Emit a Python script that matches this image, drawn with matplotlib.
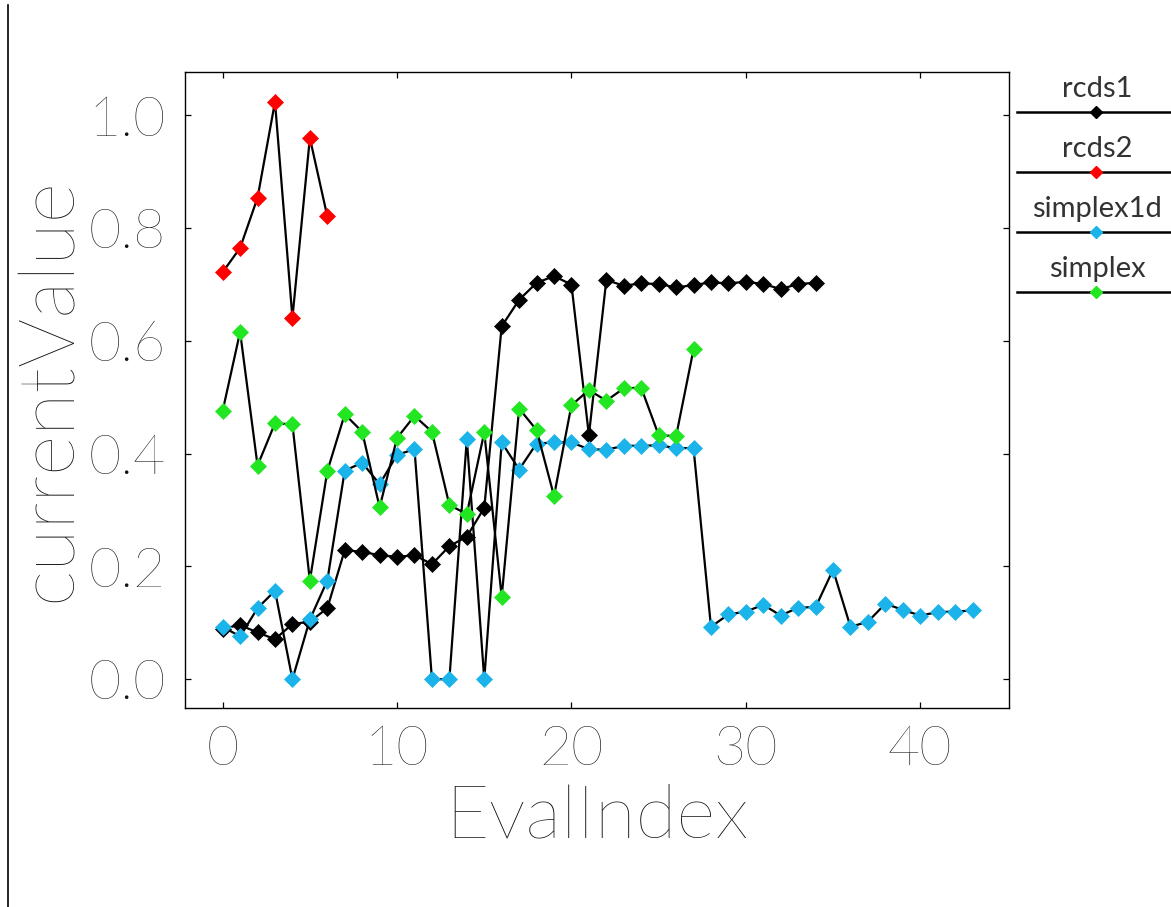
import matplotlib
matplotlib.use("Agg")
import matplotlib.pyplot as plt
from matplotlib.lines import Line2D
import numpy as np

# ---- data ----
rcds1 = [0.090, 0.096, 0.083, 0.071, 0.098, 0.102, 0.126, 0.229, 0.226, 0.220,
         0.217, 0.220, 0.204, 0.236, 0.253, 0.304, 0.626, 0.673, 0.703, 0.715,
         0.700, 0.433, 0.708, 0.698, 0.702, 0.701, 0.695, 0.699, 0.704, 0.702,
         0.705, 0.701, 0.692, 0.701, 0.703]
rcds2 = [0.722, 0.765, 0.854, 1.024, 0.641, 0.960, 0.821]
simplex1d = [0.093, 0.076, 0.126, 0.157, 0.000, 0.106, 0.175, 0.370, 0.384, 0.346,
             0.398, 0.408, 0.000, 0.000, 0.426, 0.000, 0.420, 0.372, 0.418, 0.420,
             0.420, 0.408, 0.407, 0.414, 0.414, 0.415, 0.410, 0.410, 0.093, 0.115,
             0.120, 0.132, 0.113, 0.127, 0.128, 0.194, 0.093, 0.102, 0.134, 0.123,
             0.113, 0.119, 0.120, 0.122]
simplex = [0.476, 0.616, 0.379, 0.454, 0.452, 0.175, 0.369, 0.470, 0.439, 0.305,
           0.428, 0.467, 0.439, 0.309, 0.293, 0.438, 0.146, 0.480, 0.442, 0.325,
           0.486, 0.513, 0.494, 0.516, 0.517, 0.433, 0.431, 0.585]

series_names = ["rcds1", "rcds2", "simplex1d", "simplex"]
series_values = [rcds1, rcds2, simplex1d, simplex]
series_colors = ["#000000", "#ff0000", "#1ab4ea", "#22e622"]
xticks = [0, 10, 20, 30, 40]
yticks = [0.0, 0.2, 0.4, 0.6, 0.8, 1.0]
xlabel = "EvalIndex"
ylabel = "currentValue"

plt.rcParams['font.family'] = ['Lato', 'DejaVu Sans']
TXT = '#111111'

W, H = 1171, 907
fig = plt.figure(figsize=(W / 100, H / 100), dpi=100)
fig.patch.set_facecolor('white')

ax = fig.add_axes([185 / W, 1 - 708 / H, (1009 - 185) / W, (708 - 72) / H])
for name, vals, col in zip(series_names, series_values, series_colors):
    ax.plot(np.arange(len(vals)), vals, color='black', lw=1.6,
            marker='D', ms=8.3, mfc=col, mec=col, mew=0.5)

ax.set_xlim(-2.16, 45.09)
ax.set_ylim(-0.051, 1.077)
ax.set_xticks(xticks)
ax.set_yticks(yticks)
ax.set_xticklabels([str(t) for t in xticks])
ax.set_yticklabels(["%.1f" % t for t in yticks])
ax.tick_params(direction='in', length=4, width=0.9, top=True, right=True,
               labelsize=40, labelcolor=TXT)
ax.tick_params(axis='x', pad=12)
ax.tick_params(axis='y', pad=14)
for lab in ax.get_xticklabels() + ax.get_yticklabels():
    lab.set_fontweight('light')
for sp in ax.spines.values():
    sp.set_linewidth(1.0)

ax.set_xlabel(xlabel, fontsize=54, color=TXT, fontweight='light', va='center')
ax.xaxis.set_label_coords(0.5, -0.171)
ax.set_ylabel(ylabel, fontsize=56, color=TXT, fontweight='light', va='center')
ax.yaxis.set_label_coords(-0.164, 0.5)

# manual legend (label above a line with centered marker)
for i, (name, col) in enumerate(zip(series_names, series_colors)):
    ly = 111.7 + 60 * i
    fig.add_artist(Line2D([1017 / W, 1.0], [1 - ly / H, 1 - ly / H],
                          transform=fig.transFigure, color='black', lw=1.8))
    fig.add_artist(Line2D([1096 / W], [1 - ly / H], transform=fig.transFigure,
                          marker='D', ms=6.5, mfc=col, mec=col, lw=0))
    fig.text(1097 / W, 1 - (ly - 15) / H, name, ha='center', va='baseline',
             fontsize=21, color='#333333', fontweight='normal')

# left frame line
fig.add_artist(Line2D([8 / W, 8 / W], [0, 1 - 5 / H], transform=fig.transFigure,
                      color='black', lw=1.2))

fig.savefig("out.png", dpi=100)
